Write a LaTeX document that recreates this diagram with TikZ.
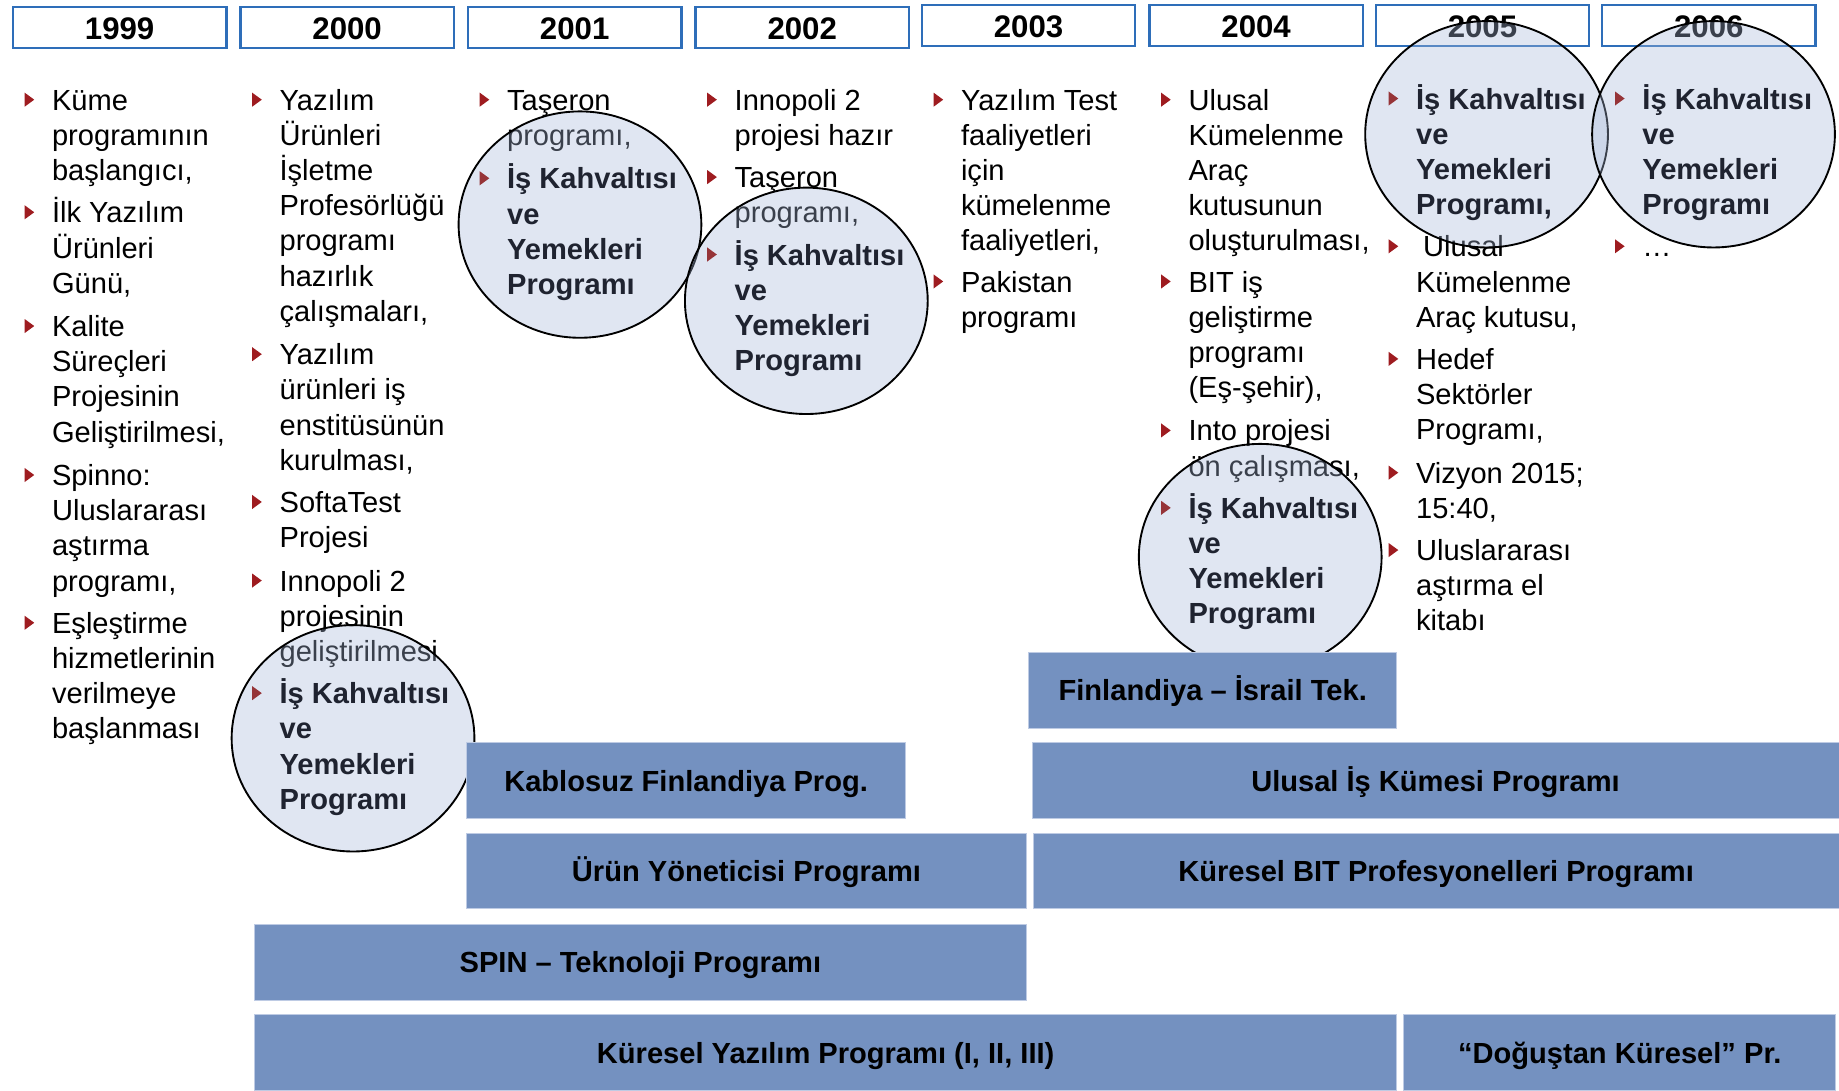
\documentclass[tikz,border=0pt]{standalone}
\usepackage{fontspec}
\setmainfont{Liberation Sans}
\usetikzlibrary{shapes.geometric,fit}
\definecolor{bulred}{RGB}{158,28,32}
\definecolor{bulredc}{RGB}{150,52,56}
\definecolor{yearblue}{RGB}{46,110,185}
\definecolor{barblue}{RGB}{116,145,192}
\definecolor{baredge}{RGB}{190,203,228}
\definecolor{circfill}{RGB}{169,186,218}
\definecolor{boldtxt}{RGB}{31,35,48}
\newcommand\tlines[5]{%
  \foreach \ltext [count=\lno from 0] in {#5} {\node[#1] (#2-\lno) at (#3, #4+8+\lno*30) {\ltext};}%
}
\newcommand\bul[3][bulred]{\fill[#1] (#2-23,#3-7) -- (#2-23,#3+5) -- (#2-14.8,#3-1) -- cycle;}
\begin{document}
\begin{tikzpicture}[x=0.5pt,y=-0.5pt,
 txt/.style={anchor=base west, inner sep=0pt, font=\fontsize{12.4}{15}\selectfont, text=black},
 btxt/.style={txt, font=\fontsize{12.4}{15}\selectfont\bfseries, text=boldtxt},
 yearbox/.style={draw=yearblue, line width=1pt, inner sep=0pt},
 yeartxt/.style={inner sep=0pt, font=\fontsize{13.3}{16}\selectfont\bfseries},
 circ/.style={ellipse, draw=black, line width=0.8pt, fill=circfill, fill opacity=0.35, draw opacity=1, inner sep=0pt, minimum width=103.5pt, minimum height=96.5pt},
 bar/.style={fill=barblue, draw=baredge, line width=0.4pt, inner sep=0pt},
 bartxt/.style={inner sep=0pt, anchor=base, font=\fontsize{12.4}{15}\selectfont\bfseries},
]
\useasboundingbox[fill=white] (0,0) rectangle (1568,930);

% ---- regular text ----
% 1999
\bul{44}{86}  \tlines{txt}{a1}{44}{86}{{Küme},{programının},{başlangıcı,}}
\bul{44}{182} \tlines{txt}{a2}{44}{182}{{İlk Yazılım},{Ürünleri},{Günü,}}
\bul{44}{279} \tlines{txt}{a3}{44}{279}{{Kalite},{Süreçleri},{Projesinin},{Geliştirilmesi,}}
\bul{44}{406} \tlines{txt}{a4}{44}{406}{{Spinno:},{Uluslararası},{aştırma},{programı,}}
\bul{44}{532} \tlines{txt}{a5}{44}{532}{{Eşleştirme},{hizmetlerinin},{verilmeye},{başlanması}}
% 2000
\bul{238}{86}  \tlines{txt}{b1}{238}{86}{{Yazılım},{Ürünleri},{İşletme},{Profesörlüğü},{programı},{hazırlık},{çalışmaları,}}
\bul{238}{303} \tlines{txt}{b2}{238}{303}{{Yazılım},{ürünleri iş},{enstitüsünün},{kurulması,}}
\bul{238}{429} \tlines{txt}{b3}{238}{429}{{SoftaTest},{Projesi}}
\bul{238}{496} \tlines{txt}{b4}{238}{496}{{Innopoli 2},{projesinin},{geliştirilmesi}}
% 2001
\bul{432}{86} \tlines{txt}{c1}{432}{86}{{Taşeron},{programı,}}
% 2002
\bul{626}{86}  \tlines{txt}{d1}{626}{86}{{Innopoli 2},{projesi hazır}}
\bul{626}{152} \tlines{txt}{d2}{626}{152}{{Taşeron},{programı,}}
% 2003
\bul{819}{86}  \tlines{txt}{e1}{819}{86}{{Yazılım Test},{faaliyetleri},{için},{kümelenme},{faaliyetleri,}}
\bul{819}{241} \tlines{txt}{e2}{819}{241}{{Pakistan},{programı}}
% 2004
\bul{1013}{86}  \tlines{txt}{f1}{1013}{86}{{Ulusal},{Kümelenme},{Araç},{kutusunun},{oluşturulması,}}
\bul{1013}{241} \tlines{txt}{f2}{1013}{241}{{BIT iş},{geliştirme},{programı},{(Eş-şehir),}}
\bul{1013}{368} \tlines{txt}{f3}{1013}{368}{{Into projesi},{ön çalışması,}}
% 2005
\bul{1207}{211} \node[txt] (g2-0) at (1213,219) {Ulusal};
\tlines{txt}{g2x}{1207}{241}{{Kümelenme},{Araç kutusu,}}
\bul{1207}{307} \tlines{txt}{g3}{1207}{307}{{Hedef},{Sektörler},{Programı,}}
\bul{1207}{404} \tlines{txt}{g4}{1207}{404}{{Vizyon 2015;},{15:40,}}
\bul{1207}{470} \tlines{txt}{g5}{1207}{470}{{Uluslararası},{aştırma el},{kitabı}}
% 2006
\bul{1400}{211} \node[txt] (h2-0) at (1400,219) {…};

% ---- year boxes ----
\foreach \yr/\xa/\ya in {1999/11/6, 2000/205/6, 2001/399/6, 2002/593/6, 2003/786/4, 2004/980/4, 2005/1173/4, 2006/1366/4} {
  \node[yearbox, fit={(\xa,\ya)(\xa+182,\ya+35)}] (y\yr) {};
  \node[yeartxt] (y\yr-t) at ([yshift=-0.5pt]y\yr.center) {\yr};
}

% ---- circles ----
\node[circ] (k2000) at (301,629.5) {};
\node[circ] (k2001) at (494.5,191.5) {};
\node[circ] (k2002) at (687.5,256.5) {};
\node[circ] (k2004) at (1074.5,475) {};
\node[circ] (k2005) at (1267.5,114.5) {};
\node[circ] (k2006) at (1461,114.5) {};

% ---- bold text in circles ----
\bul[bulredc]{238}{592}  \tlines{btxt}{b5}{238}{592}{{İş Kahvaltısı},{ve},{Yemekleri},{Programı}}
\bul[bulredc]{432}{153}  \tlines{btxt}{c2}{432}{153}{{İş Kahvaltısı},{ve},{Yemekleri},{Programı}}
\bul[bulredc]{626}{218}  \tlines{btxt}{d3}{626}{218}{{İş Kahvaltısı},{ve},{Yemekleri},{Programı}}
\bul[bulredc]{1013}{434} \tlines{btxt}{f4}{1013}{434}{{İş Kahvaltısı},{ve},{Yemekleri},{Programı}}
\bul[bulredc]{1207}{85}  \tlines{btxt}{g1}{1207}{85}{{İş Kahvaltısı},{ve},{Yemekleri},{Programı,}}
\bul[bulredc]{1400}{85}  \tlines{btxt}{h1}{1400}{85}{{İş Kahvaltısı},{ve},{Yemekleri},{Programı}}

% ---- program bars ----
\foreach \nm/\xa/\ya/\xb/\yb/\lab in {
  fin/877/556/1191/621/{Finlandiya – İsrail Tek.},
  kab/398/633/772/698/{Kablosuz Finlandiya Prog.},
  ulu/880/633/1568/698/{Ulusal İş Kümesi Programı},
  urun/398/711/875/775/{Ürün Yöneticisi Programı},
  kbit/881/711/1568/775/{Küresel BIT Profesyonelleri Programı},
  spin/217/788/875/853/{SPIN – Teknoloji Programı},
  kyaz/217/865/1191/930/{Küresel Yazılım Programı (I, II, III)},
  dog/1197/865/1565/930/{“Doğuştan Küresel” Pr.}} {
  \node[bar, fit={(\xa,\ya)(\xb,\yb)}] (\nm) {};
  \node[bartxt] (\nm-t) at ([yshift=-4.5pt]\nm.center) {\lab};
}
\end{tikzpicture}
\end{document}
